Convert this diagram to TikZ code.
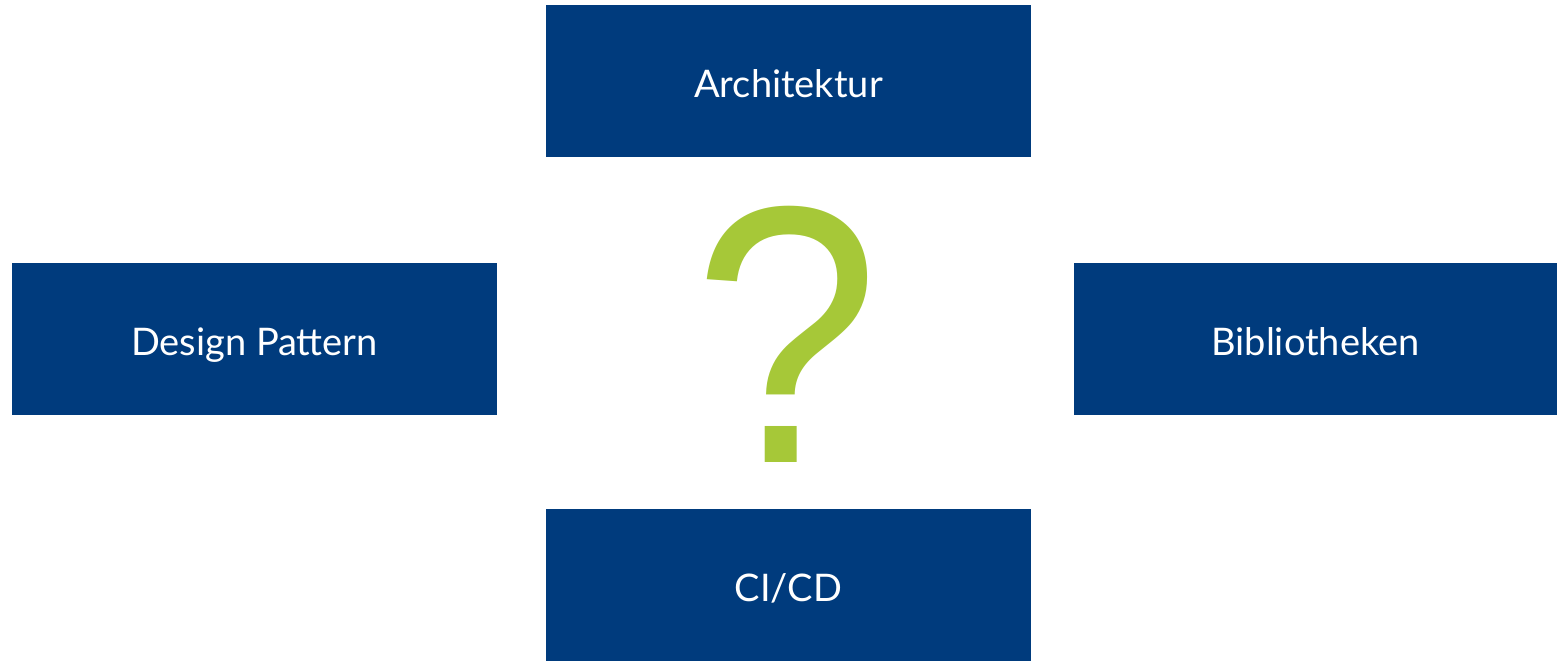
\documentclass[tikz,border=0pt]{standalone}
\usepackage{fontspec}
\setmainfont{Lato}
\newfontfamily\qfont{Liberation Sans}
\definecolor{boxblue}{RGB}{0,59,125}
\definecolor{qgreen}{RGB}{166,200,56}
\tikzset{
  topic/.style={rectangle, fill=boxblue, text=white, inner sep=0pt,
    minimum width=485pt, minimum height=152pt,
    text height=33pt, text depth=0pt,
    font=\fontsize{38}{42}\selectfont},
}
\begin{document}
\begin{tikzpicture}[x=1pt,y=-1pt]
\useasboundingbox (0,0) rectangle (1557,661);
\node[topic] (arch) at (788.5,81) {Architektur};
\node[topic] (design) at (254.5,339) {Design Pattern};
\node[topic, minimum width=483pt] (bib) at (1315.5,339) {Bibliotheken};
\node[topic] (cicd) at (788.5,585) {CI/CD};
\node[anchor=base, inner sep=0pt, text=qgreen, xscale=0.95, yscale=1.04,
  font=\qfont\fontsize{353}{353}\selectfont] (q) at (787,462) {?};
\end{tikzpicture}
\end{document}
